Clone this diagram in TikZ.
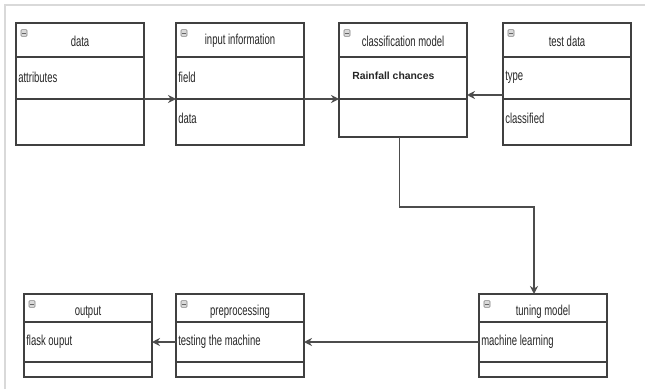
\documentclass[tikz,border=0pt]{standalone}
\usepackage{fontspec}
\setmainfont{Liberation Sans}[FakeStretch=0.66]
\newfontfamily\boldfont{Liberation Sans}
\usetikzlibrary{arrows.meta}

\tikzset{
  classbox/.style={draw=black!75, line width=1.1pt, minimum width=96pt, inner sep=0pt, outer sep=0pt},
  boxtitle/.style={font=\fontsize{10.8}{12}\selectfont, text=black!85, inner sep=0pt},
  boxfield/.style={font=\fontsize{10.8}{12}\selectfont, text=black!85, anchor=west, inner sep=0pt, xshift=1.5pt},
  minusicon/.style={draw=gray, fill=gray!30, rounded corners=0.6pt, minimum width=4.5pt, minimum height=5pt,
    inner sep=0pt, line width=0.4pt,
    path picture={\draw[black!60, line width=0.5pt] ([xshift=1pt]path picture bounding box.west) -- ([xshift=-1pt]path picture bounding box.east);}},
  link/.style={draw=black!70, line width=1.1pt, -{Stealth[length=6pt,width=6pt]}}
}

\begin{document}
\begin{tikzpicture}[x=0.75pt, y=-0.75pt]
\useasboundingbox (0,0) rectangle (645,389);
\draw[gray!30, line width=1.5pt] (5,389) -- (5,5) -- (645,5);

% top row
\node[classbox, minimum height=91.5pt] (data) at (80,84) {};
\node[classbox, minimum height=91.5pt] (input) at (240,84) {};
\node[classbox, minimum height=85.5pt] (classif) at (403,80) {};
\node[classbox, minimum height=91.5pt] (test) at (567,84) {};
% bottom row
\node[classbox, minimum height=62.25pt] (output) at (88,335.5) {};
\node[classbox, minimum height=62.25pt] (preproc) at (240,335.5) {};
\node[classbox, minimum height=62.25pt] (tuning) at (543,335.5) {};

% compartments
\foreach \b in {data,input,classif,test}{
  \draw[black!75, line width=1.1pt] (\b.west |- 0,57) -- (\b.east |- 0,57);
  \draw[black!75, line width=1.1pt] (\b.west |- 0,99) -- (\b.east |- 0,99);
  \node[minusicon] at ([shift={(8,10)}]\b.north west) {};
}
\foreach \b in {output,preproc,tuning}{
  \draw[black!75, line width=1.1pt] (\b.west |- 0,322) -- (\b.east |- 0,322);
  \draw[black!75, line width=1.1pt] (\b.west |- 0,362) -- (\b.east |- 0,362);
  \node[minusicon] at ([shift={(8,10)}]\b.north west) {};
}

% titles
\node[boxtitle] (dataT) at (data.north |- 0,41) {data};
\node[boxtitle] (inputT) at (input.north |- 0,41) {input information};
\node[boxtitle] (classifT) at (classif.north |- 0,41) {classification model};
\node[boxtitle] (testT) at (test.north |- 0,41) {test data};
\node[boxtitle] (outputT) at (output.north |- 0,312) {output};
\node[boxtitle] (preprocT) at (preproc.north |- 0,312) {preprocessing};
\node[boxtitle] (tuningT) at (tuning.north |- 0,312) {tuning model};

% fields
\node[boxfield] (attr) at (data.west |- 0,77) {attributes};
\node[boxfield] (field) at (input.west |- 0,77) {field};
\node[boxfield] (indata) at (input.west |- 0,118) {data};
\node[boxfield, xshift=8.25pt, font=\boldfont\fontsize{7.8}{9}\selectfont\bfseries] (rain) at (classif.west |- 0,76) {Rainfall chances};
\node[boxfield] (type) at (test.west |- 0,77) {type};
\node[boxfield] (classified) at (test.west |- 0,118) {classified};
\node[boxfield] (flask) at (output.west |- 0,342) {flask ouput};
\node[boxfield] (testing) at (preproc.west |- 0,342) {testing the machine};
\node[boxfield] (ml) at (tuning.west |- 0,342) {machine learning};

% connectors
\draw[link] (data.east |- 0,99) -- (input.west |- 0,99);
\draw[link] (input.east |- 0,99) -- (classif.west |- 0,99);
\draw[link] (test.west |- 0,95) -- (classif.east |- 0,95);
\draw[link] ([xshift=-2.5pt]classif.south) -- ++(0,70) -| ([xshift=-6.75pt]tuning.north);
\draw[link] (tuning.west |- 0,342) -- (preproc.east |- 0,342);
\draw[link] (preproc.west |- 0,342) -- (output.east |- 0,342);
\end{tikzpicture}
\end{document}
